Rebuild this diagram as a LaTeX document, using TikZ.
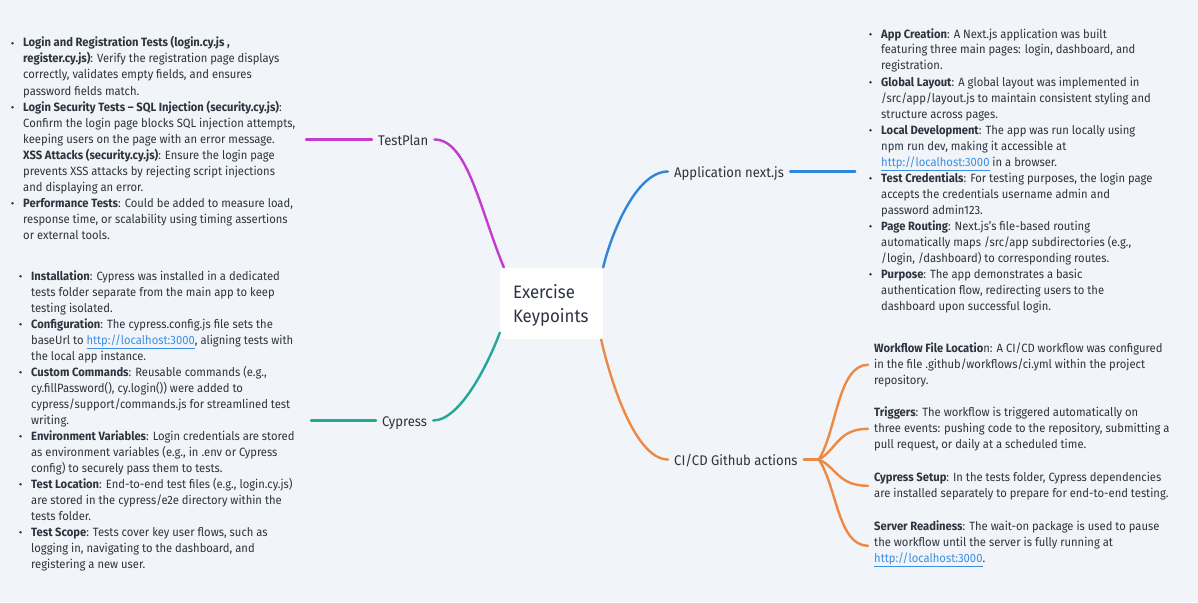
\documentclass[tikz,border=0pt]{standalone}
\usepackage{fontspec}
\setmainfont{Fira Sans}[FakeStretch=0.935]
\usetikzlibrary{calc,shadows}
\definecolor{bg}{HTML}{F1F4F8}
\definecolor{ink}{HTML}{2D3440}
\definecolor{cmag}{HTML}{C43BD0}
\definecolor{cblue}{HTML}{2E86DB}
\definecolor{cteal}{HTML}{22A898}
\definecolor{corange}{HTML}{EC8A45}
\definecolor{clink}{HTML}{3A8EE6}
\newcommand\lnk[1]{\textcolor{clink}{\underline{#1}}}
\newcommand\blk[1]{\begin{tabular}[t]{@{}l@{}}#1\end{tabular}}
\begin{document}
\begin{tikzpicture}[x=1pt,y=-1pt,
  txt/.style={anchor=base west, inner sep=0pt, font=\fontsize{12}{16}\selectfont, text=ink},
  head/.style={anchor=base west, inner xsep=6pt, inner ysep=0pt, text height=11pt, text depth=0pt, font=\fontsize{14}{16}\selectfont, text=ink},
  rootbox/.style={fill=white, rounded corners=4pt, minimum width=103pt, minimum height=72pt, align=left, text width=77pt, inner xsep=13pt, inner ysep=0pt, font=\fontsize{18}{24}\selectfont, text=ink, drop shadow={opacity=0.05, shadow xshift=0pt, shadow yshift=-1pt}},
  conn/.style={line width=2.4pt, line cap=round},
  bul/.style={fill=ink}
]
\useasboundingbox (0,0) rectangle (1198,602);
\fill[bg] (0,0) rectangle (1198,602);

% central node
\node[rootbox] (root) at (551.5,303.5) {\rule{0pt}{17pt}Exercise\\Keypoints};

% main topic nodes
\node[head] (tp) at (372,145) {TestPlan};
\node[head] (app) at (668,177) {Application next.js};
\node[head] (cy) at (376,426) {Cypress};
\node[head] (ci) at (668,465) {CI/CD Github actions};

% connectors
\draw[conn, cmag] (tp.east) .. controls +(33,0) and +(-24,-58) .. ($(root.north west)+(4,0)$);
\draw[conn, cmag] (tp.west) -- ++(-66,0);
\draw[conn, cblue] (root.north east) .. controls +(7,-30) and +(-33,0) .. (app.west);
\draw[conn, cblue] (app.east) -- ++(65,0);
\draw[conn, cteal] ($(root.south west)+(0,-7)$) .. controls +(-10,27) and +(28,0) .. (cy.east);
\draw[conn, cteal] (cy.west) -- ++(-65,0);
\draw[conn, corange] ($(root.south east)+(-2,0)$) .. controls +(9,40) and +(-33,0) .. (ci.west);
\coordinate (fork) at ($(ci.east)+(15,0)$);
\draw[conn, corange] (ci.east) -- (fork);

% TestPlan details
\node[txt] (tp1) at (23,47) {\blk{\textbf{Login and Registration Tests (login.cy.js ,}\\
\textbf{register.cy.js)}: Verify the registration page displays\\
correctly, validates empty fields, and ensures\\
password fields match.}};
\node[txt] (tp2) at (23,111) {\blk{\textbf{Login Security Tests – SQL Injection (security.cy.js)}:\\
Confirm the login page blocks SQL injection attempts,\\
keeping users on the page with an error message.\\
\textbf{XSS Attacks (security.cy.js)}: Ensure the login page\\
prevents XSS attacks by rejecting script injections\\
and displaying an error.}};
\node[txt] (tp3) at (23,207) {\blk{\textbf{Performance Tests}: Could be added to measure load,\\
response time, or scalability using timing assertions\\
or external tools.}};
\foreach \b in {47,111,207} \fill[bul] (12.5,\b-3.8) circle (1.4);

% Cypress details
\node[txt] (cy1) at (31,280) {\blk{\textbf{Installation}: Cypress was installed in a dedicated\\
tests folder separate from the main app to keep\\
testing isolated.}};
\node[txt] (cy2) at (31,328) {\blk{\textbf{Configuration}: The cypress.config.js file sets the\\
baseUrl to \lnk{http://localhost:3000}, aligning tests with\\
the local app instance.}};
\node[txt] (cy3) at (31,376) {\blk{\textbf{Custom Commands}: Reusable commands (e.g.,\\
cy.fillPassword(), cy.login()) were added to\\
cypress/support/commands.js for streamlined test\\
writing.}};
\node[txt] (cy4) at (31,440) {\blk{\textbf{Environment Variables}: Login credentials are stored\\
as environment variables (e.g., in .env or Cypress\\
config) to securely pass them to tests.}};
\node[txt] (cy5) at (31,488) {\blk{\textbf{Test Location}: End-to-end test files (e.g., login.cy.js)\\
are stored in the cypress/e2e directory within the\\
tests folder.}};
\node[txt] (cy6) at (31,536) {\blk{\textbf{Test Scope}: Tests cover key user flows, such as\\
logging in, navigating to the dashboard, and\\
registering a new user.}};
\foreach \b in {280,328,376,440,488,536} \fill[bul] (20.5,\b-3.8) circle (1.4);

% Application details
\node[txt] (ap1) at (881,38) {\blk{\textbf{App Creation}: A Next.js application was built\\
featuring three main pages: login, dashboard, and\\
registration.}};
\node[txt] (ap2) at (881,86) {\blk{\textbf{Global Layout}: A global layout was implemented in\\
/src/app/layout.js to maintain consistent styling and\\
structure across pages.}};
\node[txt] (ap3) at (881,134) {\blk{\textbf{Local Development}: The app was run locally using\\
npm run dev, making it accessible at\\
\lnk{http://localhost:3000} in a browser.}};
\node[txt] (ap4) at (881,182) {\blk{\textbf{Test Credentials}: For testing purposes, the login page\\
accepts the credentials username admin and\\
password admin123.}};
\node[txt] (ap5) at (881,230) {\blk{\textbf{Page Routing}: Next.js's file-based routing\\
automatically maps /src/app subdirectories (e.g.,\\
/login, /dashboard) to corresponding routes.}};
\node[txt] (ap6) at (881,278) {\blk{\textbf{Purpose}: The app demonstrates a basic\\
authentication flow, redirecting users to the\\
dashboard upon successful login.}};
\foreach \b in {38,86,134,182,230,278} \fill[bul] (870.5,\b-3.8) circle (1.4);

% CI/CD details
\node[txt] (ci1) at (874,352) {\blk{\textbf{Workflow File Locatio}n: A CI/CD workflow was configured\\
in the file .github/workflows/ci.yml within the project\\
repository.}};
\node[txt] (ci2) at (874,416) {\blk{\textbf{Triggers}: The workflow is triggered automatically on\\
three events: pushing code to the repository, submitting a\\
pull request, or daily at a scheduled time.}};
\node[txt] (ci3) at (874,481) {\blk{\textbf{Cypress Setup}: In the tests folder, Cypress dependencies\\
are installed separately to prepare for end-to-end testing.}};
\node[txt] (ci4) at (874,530) {\blk{\textbf{Server Readiness}: The wait-on package is used to pause\\
the workflow until the server is fully running at\\
\lnk{http://localhost:3000}.}};

\coordinate (w1) at ($(ci1.west)+(-6,0)$);
\coordinate (w2) at ($(ci2.west)+(-6,0)$);
\coordinate (w3) at ($(ci3.west)+(-6,0)$);
\coordinate (w4) at ($(ci4.west)+(-6,3)$);
\draw[conn, corange] (fork) .. controls +(18,-29) and +(-30,0) .. (w1);
\draw[conn, corange] (fork) .. controls +(18,-10) and +(-30,0) .. (w2);
\draw[conn, corange] (fork) .. controls +(18,8) and +(-30,0) .. (w3);
\draw[conn, corange] (fork) .. controls +(18,27) and +(-30,0) .. (w4);
\end{tikzpicture}
\end{document}
